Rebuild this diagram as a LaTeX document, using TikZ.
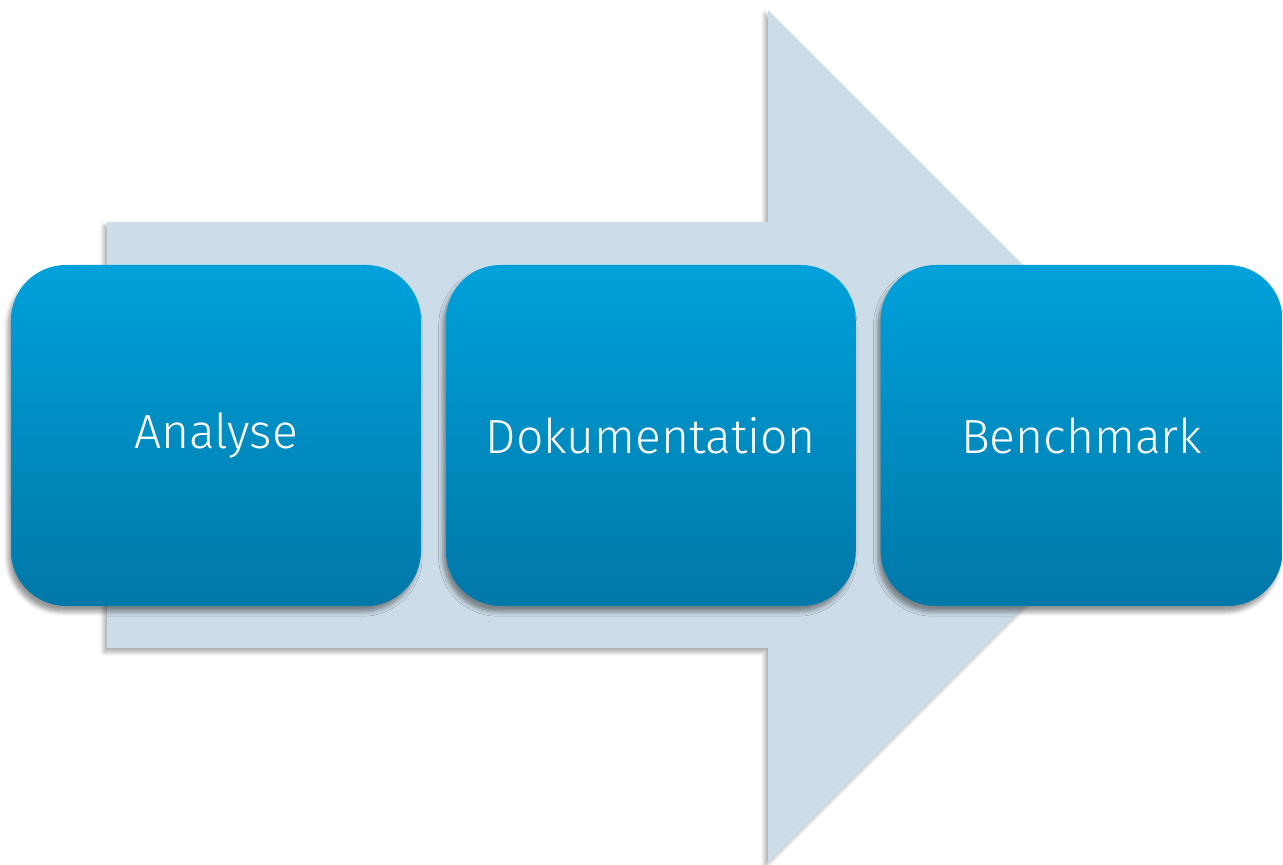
\documentclass[tikz,border=0pt]{standalone}
\usepackage{fontspec}
\setmainfont{Fira Sans}[UprightFont={* Light}]
\usetikzlibrary{positioning,shadows.blur}
\definecolor{arrowblue}{RGB}{204,220,232}
\definecolor{boxtop}{RGB}{0,161,219}
\definecolor{boxbottom}{RGB}{0,120,168}
\begin{document}
\begin{tikzpicture}[
  x=0.5pt, y=-0.5pt,
  node distance=12pt,
  bigarrow/.style={fill=arrowblue, blur shadow={shadow xshift=-1.5pt, shadow yshift=-2pt, shadow opacity=35, shadow blur steps=4}},
  phase/.style={rounded corners=27.5pt, minimum width=205pt, minimum height=170.5pt,
    top color=boxtop, bottom color=boxbottom, text=white, inner sep=0pt,
    font=\fontsize{24}{28}\selectfont,
    blur shadow={shadow xshift=-1.5pt, shadow yshift=-3pt, shadow opacity=40, shadow blur steps=4}}
]
\useasboundingbox (0,0) rectangle (1283,865);
% background arrow
\fill[bigarrow] (107,222) -- (768,222) -- (768,10) -- (1194,436) -- (768,862) -- (768,648) -- (107,648) -- cycle;
% phases
\node[phase] (analyse) at (216,435.5) {Analyse};
\node[phase, right=of analyse] (doku) {Dokumentation};
\node[phase, right=of doku, minimum width=201pt] (bench) {Benchmark};
\end{tikzpicture}
\end{document}
